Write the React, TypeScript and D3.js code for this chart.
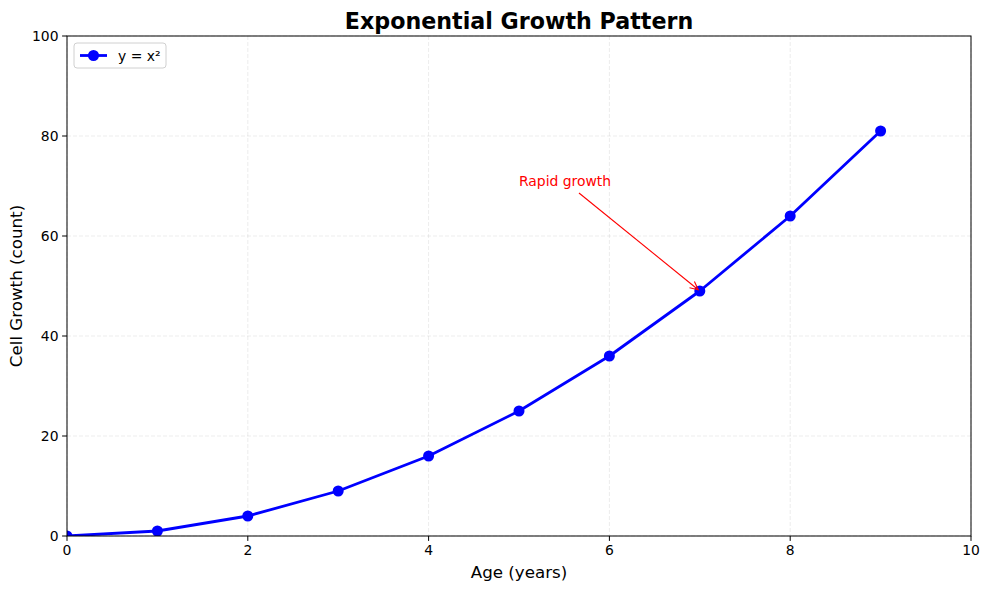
import React from "react";
import * as d3 from "d3";

const xValues = [0, 1, 2, 3, 4, 5, 6, 7, 8, 9];
const yValues = [0, 1, 4, 9, 16, 25, 36, 49, 64, 81];
const xTicks = [0, 2, 4, 6, 8, 10];
const yTicks = [0, 20, 40, 60, 80, 100];
const annotation = { text: "Rapid growth", tx: 5, ty: 70, px: 7, py: 49 };

const W = 989, H = 590;
const L = 67, R = 971, T = 36, B = 536;
const FONT = "DejaVu Sans, sans-serif";

export default function App() {
  const x = d3.scaleLinear().domain([0, 10]).range([L, R]);
  const y = d3.scaleLinear().domain([0, 100]).range([B, T]);
  const pts = xValues.map((v, i) => [v, yValues[i]] as [number, number]);
  const line = d3.line<[number, number]>().x(d => x(d[0])).y(d => y(d[1]));

  // annotation arrow
  const tx = x(annotation.tx), ty = y(annotation.ty);
  const sx = tx + 60, sy = ty + 7;
  const ex = x(annotation.px), ey = y(annotation.py);
  const ang = Math.atan2(ey - sy, ex - sx);
  const shrink = 2;
  const ex2 = ex - Math.cos(ang) * shrink, ey2 = ey - Math.sin(ang) * shrink;
  const ah = 9, aw = 0.45;
  const a1 = [ex2 - ah * Math.cos(ang - aw), ey2 - ah * Math.sin(ang - aw)];
  const a2 = [ex2 - ah * Math.cos(ang + aw), ey2 - ah * Math.sin(ang + aw)];

  return (
    <svg width={W} height={H} style={{ position: "absolute", left: 0, top: 0, background: "#fff" }} fontFamily={FONT}>
      <defs>
        <clipPath id="plotclip">
          <rect x={L} y={T} width={R - L} height={B - T} />
        </clipPath>
      </defs>
      <rect x={0} y={0} width={W} height={H} fill="#fff" />
      {/* grid */}
      <g stroke="#b0b0b0" strokeOpacity={0.3} strokeWidth={0.8} strokeDasharray="4,2">
        {xTicks.map(t => <line key={"gx" + t} x1={x(t)} x2={x(t)} y1={T} y2={B} />)}
        {yTicks.map(t => <line key={"gy" + t} x1={L} x2={R} y1={y(t)} y2={y(t)} />)}
      </g>
      {/* series */}
      <g clipPath="url(#plotclip)">
        <path d={line(pts) || ""} fill="none" stroke="#0000ff" strokeWidth={2.8} strokeLinejoin="round" />
        {pts.map((p, i) => <circle key={i} cx={x(p[0])} cy={y(p[1])} r={5.5} fill="#0000ff" />)}
      </g>
      {/* annotation */}
      <text x={tx} y={ty} fontSize={13.9} fill="#ff0000">{annotation.text}</text>
      <line x1={sx} y1={sy} x2={ex2} y2={ey2} stroke="#ff0000" strokeWidth={1.1} />
      <polyline points={`${a1[0]},${a1[1]} ${ex2},${ey2} ${a2[0]},${a2[1]}`} fill="none" stroke="#ff0000" strokeWidth={1.1} />
      {/* frame */}
      <rect x={L} y={T} width={R - L} height={B - T} fill="none" stroke="#000" strokeWidth={1} />
      {/* ticks */}
      <g fontSize={13.9} fill="#000">
        {xTicks.map(t => (
          <g key={"tx" + t}>
            <line x1={x(t)} x2={x(t)} y1={B} y2={B + 4.9} stroke="#000" strokeWidth={1} />
            <text x={x(t)} y={B + 19} textAnchor="middle">{t}</text>
          </g>
        ))}
        {yTicks.map(t => (
          <g key={"ty" + t}>
            <line x1={L - 4.9} x2={L} y1={y(t)} y2={y(t)} stroke="#000" strokeWidth={1} />
            <text x={L - 8.5} y={y(t) + 5} textAnchor="end">{t}</text>
          </g>
        ))}
      </g>
      {/* labels */}
      <text x={(L + R) / 2} y={578} fontSize={16.7} textAnchor="middle">Age (years)</text>
      <text transform={`translate(22,${(T + B) / 2}) rotate(-90)`} fontSize={16.7} textAnchor="middle">Cell Growth (count)</text>
      <text x={(L + R) / 2} y={29} fontSize={22.2} fontWeight="bold" textAnchor="middle">Exponential Growth Pattern</text>
      {/* legend */}
      <g>
        <rect x={74} y={43} width={92} height={25} rx={3} fill="#fff" fillOpacity={0.8} stroke="#d0d0d0" strokeWidth={1} />
        <line x1={80} x2={107} y1={55.5} y2={55.5} stroke="#0000ff" strokeWidth={2.8} />
        <circle cx={93.5} cy={55.5} r={5.5} fill="#0000ff" />
        <text x={118} y={60.5} fontSize={13.9} fill="#000">y = x²</text>
      </g>
    </svg>
  );
}
